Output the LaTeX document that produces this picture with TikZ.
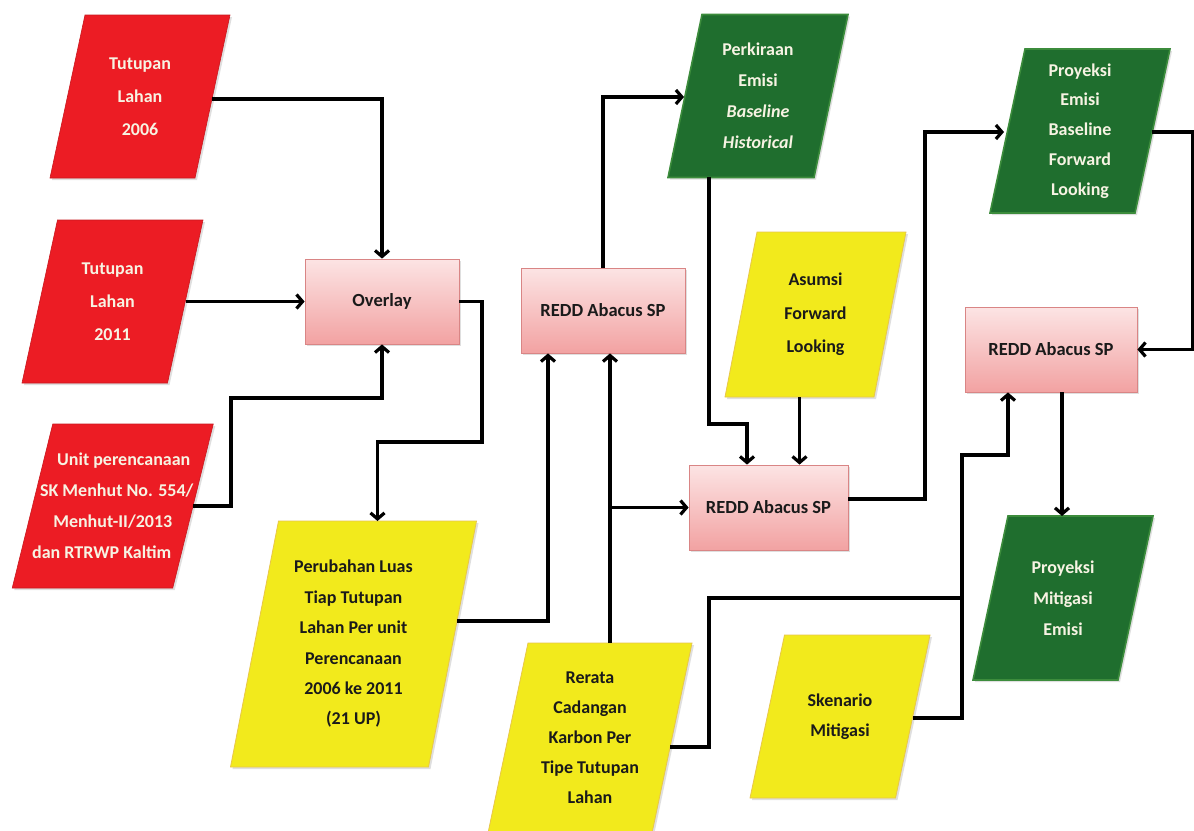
\documentclass[tikz,border=0pt]{standalone}
\usepackage{fontspec}
\setmainfont{Carlito}
\usetikzlibrary{arrows.meta,shadows,calc}

\definecolor{redf}{HTML}{EC1C24}
\definecolor{yelf}{HTML}{F2EA1C}
\definecolor{yelb}{HTML}{E8C64A}
\definecolor{grnf}{HTML}{1F6E2E}
\definecolor{grnb}{HTML}{3C8C3C}
\definecolor{pinkt}{HTML}{FCE4E4}
\definecolor{pinkb}{HTML}{F2A2A2}
\definecolor{pinkd}{HTML}{D98585}
\definecolor{txtw}{HTML}{F7F3E3}
\definecolor{txtk}{HTML}{1A1A1A}

\tikzset{
  conn/.style={line width=3.2pt, draw=black, line join=miter},
  arr/.style={conn, -{Straight Barb[length=6pt,width=14pt]}},
  shd/.style={drop shadow={opacity=0.25, shadow xshift=2pt, shadow yshift=-2pt}},
  redshape/.style={fill=redf, draw=redf!85!black, line width=0.6pt, shd},
  yelshape/.style={fill=yelf, draw=yelb, line width=0.8pt, shd},
  grnshape/.style={fill=grnf, draw=grnb, line width=1.6pt, shd},
  lbl/.style={font=\bfseries\fontsize{18}{31}\selectfont, align=center, inner sep=0pt},
  wlbl/.style={lbl, text=txtw},
  klbl/.style={lbl, text=txtk},
  procbox/.style={draw=pinkd, line width=0.8pt, top color=pinkt, bottom color=pinkb,
    shd, font=\bfseries\fontsize{18.5}{22}\selectfont, text=txtk, inner sep=0pt},
}

% #1 name, #2 cx, #3 cy, #4 width, #5 height, #6 skew, #7 shape style, #8 text style, #9 text
\newcommand\pgram[9]{%
  \path[#7] ({#2-#4/2+#6},{#3-#5/2}) -- ({#2+#4/2+#6},{#3-#5/2})
     -- ({#2+#4/2-#6},{#3+#5/2}) -- ({#2-#4/2-#6},{#3+#5/2}) -- cycle;
  \node[#8, minimum width=#4pt, minimum height=#5pt] (#1) at (#2,#3) {#9};
  \coordinate (#1-t) at ({#2+#6},{#3-#5/2});
  \coordinate (#1-b) at ({#2-#6},{#3+#5/2});
}

\begin{document}
\begin{tikzpicture}[x=1pt,y=-1pt]
\useasboundingbox[fill=white] (0,0) rectangle (1194,830);

% input parallelograms
\pgram{r1}{140}{96.5}{145}{163}{17.5}{redshape}{wlbl, font=\bfseries\fontsize{18}{33}\selectfont}{Tutupan\\Lahan\\2006}
\pgram{r2}{112.5}{301.5}{145.5}{163}{17.75}{redshape}{wlbl, font=\bfseries\fontsize{18}{33}\selectfont}{Tutupan\\Lahan\\2011}
\pgram{r3}{112.75}{506}{160.5}{164}{20.25}{redshape}{wlbl}{\hspace*{22pt}Unit perencanaan\\\hspace*{8pt}SK Menhut No. 554/\\Menhut-II/2013\hspace*{10pt}\\dan RTRWP Kaltim\hspace*{22pt}}

\pgram{y1}{353.5}{644}{198}{246}{24}{yelshape}{klbl, font=\bfseries\fontsize{18}{30.4}\selectfont}{Perubahan Luas\\Tiap Tutupan\\Lahan Per unit\\Perencanaan\\2006 ke 2011\\(21 UP)}
\pgram{y2}{815.5}{314.5}{149}{165}{16}{yelshape}{klbl, font=\bfseries\fontsize{18}{33.5}\selectfont}{Asumsi\\Forward\\Looking}
\pgram{y3}{840}{716.5}{145.5}{163}{17.25}{yelshape}{klbl, font=\bfseries\fontsize{18}{30}\selectfont}{Skenario\\Mitigasi}
\pgram{y4}{590}{738}{164}{190}{20}{yelshape}{klbl, font=\bfseries\fontsize{18}{30}\selectfont}{Rerata\\Cadangan\\Karbon Per\\Tipe Tutupan\\Lahan}

\pgram{g1}{758}{96}{146}{163}{17}{grnshape}{wlbl, font=\bfseries\fontsize{18}{31}\selectfont}{Perkiraan\\Emisi\\{\itshape Baseline}\\{\itshape Historical}}
\pgram{g2}{1080}{131}{145}{164}{17.5}{grnshape}{wlbl, font=\bfseries\fontsize{18}{29.8}\selectfont}{Proyeksi\\Emisi\\Baseline\\Forward\\Looking}
\pgram{g3}{1063}{598}{145}{164}{17.5}{grnshape}{wlbl, font=\bfseries\fontsize{18}{31}\selectfont}{Proyeksi\\Mitigasi\\Emisi}

% process boxes
\node[procbox, minimum width=154pt, minimum height=85pt] (ov) at (382,301.5) {Overlay};
\node[procbox, minimum width=164pt, minimum height=85pt] (redd1) at (603,310.5) {REDD Abacus SP};
\node[procbox, minimum width=159pt, minimum height=85pt] (redd2) at (768.5,507.5) {REDD Abacus SP};
\node[procbox, minimum width=172pt, minimum height=85pt] (redd3) at (1051,349.5) {REDD Abacus SP};

% connection points on slanted edges
\coordinate (r1o) at (212,99);
\coordinate (r2o) at (185.5,301.5);
\coordinate (r3o) at (193,506);
\coordinate (y1o) at (457,621);
\coordinate (g1i) at (684,97);
\coordinate (g1o) at (709,177);
\coordinate (g2i) at (1004,132);
\coordinate (g2o) at (1152,132);
\coordinate (g3i) at (1062,516);
\coordinate (y4o) at (670,747);
\coordinate (y3o) at (913,718);
\coordinate (j1) at (610,507.5);
\coordinate (j2) at (962,598);

% connectors
\draw[arr] (r1o) -| (ov.north);
\draw[arr] (r2o) -- (ov.west);
\draw[arr] (r3o) -- (231,506) |- (382,398) -- (ov.south);
\draw[arr] (ov.east) -- (482,301.5) -- (482,442) -| (y1-t);
\draw[arr] (y1o) -| ([xshift=-55pt]redd1.south);
\draw[arr] (redd1.north) |- (g1i);
\draw[arr] (y4-t) -- ([xshift=7pt]redd1.south);
\draw[arr] (j1) -- (redd2.west);
\draw[arr] (g1o) -- (709,424) -| ([xshift=-21.5pt]redd2.north);
\draw[arr] (y2-b) -- (y2-b |- redd2.north);
\draw[arr] ([yshift=8.5pt]redd2.east) -- (925,499) |- (g2i);
\draw[arr] (g2o) -- (1193,132) |- (redd3.east);
\draw[arr] ([xshift=11pt]redd3.south) -- (g3i);
\draw[conn] (y4o) -- (709,747) -- (709,598) -- (j2);
\draw[arr] (y3o) -- (962,718) -- (962,455) -| ([xshift=-43pt]redd3.south);
\end{tikzpicture}
\end{document}
